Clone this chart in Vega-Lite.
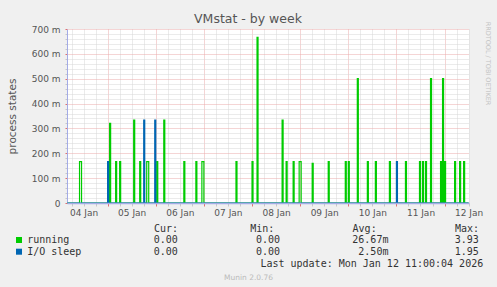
{
  "$schema": "https://vega.github.io/schema/vega-lite/v6.json",
  "width": 402,
  "height": 174,
  "autosize": {"type": "none"},
  "padding": {"left": 67, "top": 29, "right": 28, "bottom": 84},
  "background": "#f0f0f0",
  "config": {
    "view": {"fill": "#ffffff", "stroke": null},
    "axis": {"labelFont": "DejaVu Sans", "titleFont": "DejaVu Sans", "titleFontWeight": "normal"}
  },
  "title": {
    "text": "VMstat - by week",
    "font": "DejaVu Sans",
    "fontSize": 12.5,
    "fontWeight": "normal",
    "color": "#555555",
    "anchor": "middle",
    "frame": "group",
    "dx": -20,
    "offset": -4
  },
  "data": {
    "values": [
      {"state": "running", "time": "2026-01-04T04:00", "value": 0},
      {"state": "running", "time": "2026-01-04T10:00", "value": 0.1667},
      {"state": "running", "time": "2026-01-04T11:00", "value": 0},
      {"state": "running", "time": "2026-01-05T01:00", "value": 0.32},
      {"state": "running", "time": "2026-01-05T01:30", "value": 0},
      {"state": "running", "time": "2026-01-05T04:00", "value": 0.1667},
      {"state": "running", "time": "2026-01-05T04:30", "value": 0},
      {"state": "running", "time": "2026-01-05T06:00", "value": 0.1667},
      {"state": "running", "time": "2026-01-05T06:30", "value": 0},
      {"state": "running", "time": "2026-01-05T13:00", "value": 0.3333},
      {"state": "running", "time": "2026-01-05T13:30", "value": 0},
      {"state": "running", "time": "2026-01-05T16:00", "value": 0.1667},
      {"state": "running", "time": "2026-01-05T16:30", "value": 0},
      {"state": "running", "time": "2026-01-05T19:30", "value": 0.1667},
      {"state": "running", "time": "2026-01-05T20:30", "value": 0},
      {"state": "running", "time": "2026-01-06T00:30", "value": 0.1667},
      {"state": "running", "time": "2026-01-06T01:00", "value": 0},
      {"state": "running", "time": "2026-01-06T04:00", "value": 0.3333},
      {"state": "running", "time": "2026-01-06T04:30", "value": 0},
      {"state": "running", "time": "2026-01-06T14:00", "value": 0.1667},
      {"state": "running", "time": "2026-01-06T14:30", "value": 0},
      {"state": "running", "time": "2026-01-06T20:00", "value": 0.1667},
      {"state": "running", "time": "2026-01-06T20:30", "value": 0},
      {"state": "running", "time": "2026-01-06T23:00", "value": 0.1667},
      {"state": "running", "time": "2026-01-07T00:00", "value": 0},
      {"state": "running", "time": "2026-01-07T16:00", "value": 0.1667},
      {"state": "running", "time": "2026-01-07T16:30", "value": 0},
      {"state": "running", "time": "2026-01-08T00:00", "value": 0.1667},
      {"state": "running", "time": "2026-01-08T00:30", "value": 0},
      {"state": "running", "time": "2026-01-08T02:30", "value": 0.6667},
      {"state": "running", "time": "2026-01-08T03:00", "value": 0},
      {"state": "running", "time": "2026-01-08T15:00", "value": 0.3333},
      {"state": "running", "time": "2026-01-08T15:30", "value": 0},
      {"state": "running", "time": "2026-01-08T17:00", "value": 0.1667},
      {"state": "running", "time": "2026-01-08T17:30", "value": 0},
      {"state": "running", "time": "2026-01-08T20:30", "value": 0.1667},
      {"state": "running", "time": "2026-01-08T21:00", "value": 0},
      {"state": "running", "time": "2026-01-08T23:30", "value": 0.1667},
      {"state": "running", "time": "2026-01-09T00:30", "value": 0},
      {"state": "running", "time": "2026-01-09T06:00", "value": 0.16},
      {"state": "running", "time": "2026-01-09T06:30", "value": 0},
      {"state": "running", "time": "2026-01-09T14:00", "value": 0.1667},
      {"state": "running", "time": "2026-01-09T14:30", "value": 0},
      {"state": "running", "time": "2026-01-09T22:30", "value": 0.1667},
      {"state": "running", "time": "2026-01-09T23:00", "value": 0},
      {"state": "running", "time": "2026-01-10T00:00", "value": 0.1667},
      {"state": "running", "time": "2026-01-10T00:30", "value": 0},
      {"state": "running", "time": "2026-01-10T04:30", "value": 0.5},
      {"state": "running", "time": "2026-01-10T05:00", "value": 0},
      {"state": "running", "time": "2026-01-10T09:30", "value": 0.1667},
      {"state": "running", "time": "2026-01-10T10:00", "value": 0},
      {"state": "running", "time": "2026-01-10T13:30", "value": 0.1667},
      {"state": "running", "time": "2026-01-10T14:00", "value": 0},
      {"state": "running", "time": "2026-01-10T20:30", "value": 0.1667},
      {"state": "running", "time": "2026-01-10T21:00", "value": 0},
      {"state": "running", "time": "2026-01-11T04:30", "value": 0.1667},
      {"state": "running", "time": "2026-01-11T05:00", "value": 0},
      {"state": "running", "time": "2026-01-11T11:30", "value": 0.1667},
      {"state": "running", "time": "2026-01-11T12:00", "value": 0},
      {"state": "running", "time": "2026-01-11T13:00", "value": 0.1667},
      {"state": "running", "time": "2026-01-11T13:30", "value": 0},
      {"state": "running", "time": "2026-01-11T14:30", "value": 0.1667},
      {"state": "running", "time": "2026-01-11T15:00", "value": 0},
      {"state": "running", "time": "2026-01-11T17:00", "value": 0.5},
      {"state": "running", "time": "2026-01-11T17:30", "value": 0},
      {"state": "running", "time": "2026-01-11T22:00", "value": 0.1667},
      {"state": "running", "time": "2026-01-11T22:30", "value": 0},
      {"state": "running", "time": "2026-01-11T23:00", "value": 0.5},
      {"state": "running", "time": "2026-01-11T23:30", "value": 0},
      {"state": "running", "time": "2026-01-12T00:00", "value": 0.1667},
      {"state": "running", "time": "2026-01-12T00:30", "value": 0},
      {"state": "running", "time": "2026-01-12T05:00", "value": 0.1667},
      {"state": "running", "time": "2026-01-12T05:30", "value": 0},
      {"state": "running", "time": "2026-01-12T07:30", "value": 0.1667},
      {"state": "running", "time": "2026-01-12T08:00", "value": 0},
      {"state": "running", "time": "2026-01-12T09:30", "value": 0.1667},
      {"state": "running", "time": "2026-01-12T10:00", "value": 0},
      {"state": "running", "time": "2026-01-12T12:00", "value": 0},
      {"state": "I/O sleep", "time": "2026-01-04T04:00", "value": 0},
      {"state": "I/O sleep", "time": "2026-01-05T00:00", "value": 0.1667},
      {"state": "I/O sleep", "time": "2026-01-05T00:30", "value": 0},
      {"state": "I/O sleep", "time": "2026-01-05T18:00", "value": 0.3333},
      {"state": "I/O sleep", "time": "2026-01-05T18:30", "value": 0},
      {"state": "I/O sleep", "time": "2026-01-05T23:30", "value": 0.3333},
      {"state": "I/O sleep", "time": "2026-01-06T00:00", "value": 0},
      {"state": "I/O sleep", "time": "2026-01-11T00:00", "value": 0.1667},
      {"state": "I/O sleep", "time": "2026-01-11T00:30", "value": 0},
      {"state": "I/O sleep", "time": "2026-01-12T12:00", "value": 0}
    ]
  },
  "encoding": {
    "color": {
      "field": "state",
      "type": "nominal",
      "scale": {"domain": ["running", "I/O sleep"], "range": ["#00cc00", "#0066b3"]},
      "legend": {
        "orient": "none",
        "legendX": -53,
        "legendY": 194.5,
        "padding": 0,
        "direction": "vertical",
        "title": "Cur:\u00a0\u00a0\u00a0\u00a0\u00a0\u00a0\u00a0\u00a0\u00a0\u00a0\u00a0\u00a0Min:\u00a0\u00a0\u00a0\u00a0\u00a0\u00a0\u00a0\u00a0\u00a0\u00a0\u00a0\u00a0\u00a0Avg:\u00a0\u00a0\u00a0\u00a0\u00a0\u00a0\u00a0\u00a0\u00a0\u00a0\u00a0\u00a0\u00a0Max:",
        "titleFont": "DejaVu Sans Mono",
        "titleFontSize": 10,
        "titleFontWeight": "normal",
        "titleColor": "#333333",
        "titlePadding": 1.5,
        "titleAnchor": "end",
        "titleLimit": 600,
        "labelFont": "DejaVu Sans Mono",
        "labelFontSize": 10,
        "labelColor": "#333333",
        "labelLimit": 600,
        "labelOffset": 3.2,
        "rowPadding": 1.7,
        "symbolType": "square",
        "symbolSize": 36,
        "symbolStrokeWidth": 0,
        "symbolOpacity": 1,
        "labelExpr": "datum.label == 'running' ? 'running\u00a0\u00a0\u00a0\u00a0\u00a0\u00a0\u00a0\u00a0\u00a0\u00a0\u00a0\u00a0\u00a0\u00a00.00\u00a0\u00a0\u00a0\u00a0\u00a0\u00a0\u00a0\u00a0\u00a0\u00a0\u00a0\u00a0\u00a00.00\u00a0\u00a0\u00a0\u00a0\u00a0\u00a0\u00a0\u00a0\u00a0\u00a0\u00a0\u00a026.67m\u00a0\u00a0\u00a0\u00a0\u00a0\u00a0\u00a0\u00a0\u00a0\u00a0\u00a03.93' : 'I/O\u00a0sleep\u00a0\u00a0\u00a0\u00a0\u00a0\u00a0\u00a0\u00a0\u00a0\u00a0\u00a0\u00a00.00\u00a0\u00a0\u00a0\u00a0\u00a0\u00a0\u00a0\u00a0\u00a0\u00a0\u00a0\u00a0\u00a00.00\u00a0\u00a0\u00a0\u00a0\u00a0\u00a0\u00a0\u00a0\u00a0\u00a0\u00a0\u00a0\u00a02.50m\u00a0\u00a0\u00a0\u00a0\u00a0\u00a0\u00a0\u00a0\u00a0\u00a0\u00a01.95'",
        "encode": {
          "symbols": {"update": {"fill": {"scale": "color", "field": "value"}}}
        }
      }
    }
  },
  "layer": [
    {
      "transform": [{"filter": "datum.state == 'running'"}],
      "mark": {"type": "line", "interpolate": "step-after", "strokeWidth": 1.2},
      "encoding": {
        "x": {
          "field": "time",
          "type": "temporal",
          "scale": {
            "domain": [
              {"year": 2026, "month": 1, "date": 4, "hours": 3, "minutes": 45},
              {"year": 2026, "month": 1, "date": 12, "hours": 12, "minutes": 11}
            ]
          },
          "axis": {
            "orient": "bottom",
            "tickCount": 34,
            "grid": true,
            "gridDash": [1, 1],
            "gridColor": {"condition": {"test": "hours(datum.value) == 0", "value": "#eaaaaa"}, "value": "#d6d6d6"},
            "tickColor": {"condition": {"test": "hours(datum.value) == 0", "value": "#e07070"}, "value": "#c8c8c8"},
            "tickSize": 3,
            "labelExpr": "hours(datum.value) == 12 ? timeFormat(datum.value, '%d %b') : ''",
            "labelOverlap": false,
            "labelFlush": false,
            "labelBound": false,
            "labelFontSize": 9,
            "labelColor": "#555555",
            "labelPadding": 2,
            "domain": false,
            "title": "Last update: Mon Jan 12 11:00:04 2026",
            "titleFont": "DejaVu Sans Mono",
            "titleFontSize": 10,
            "titleColor": "#333333",
            "titleX": 415.7,
            "titleY": 60.5,
            "titleAlign": "right",
            "titleBaseline": "middle",
            "zindex": 0
          }
        },
        "y": {
          "field": "value",
          "type": "quantitative",
          "scale": {"domain": [0, 0.7], "nice": false, "zero": true},
          "axis": {
            "values": [0, 0.02, 0.04, 0.06, 0.08, 0.1, 0.12, 0.14, 0.16, 0.18, 0.2, 0.22, 0.24, 0.26, 0.28, 0.3, 0.32, 0.34, 0.36, 0.38, 0.4, 0.42, 0.44, 0.46, 0.48, 0.5, 0.52, 0.54, 0.56, 0.58, 0.6, 0.62, 0.64, 0.66, 0.68, 0.7],
            "grid": true,
            "gridDash": [1, 1],
            "gridColor": {"condition": {"test": "abs(datum.value * 10 - round(datum.value * 10)) < 0.001", "value": "#eaaaaa"}, "value": "#d6d6d6"},
            "tickColor": {"condition": {"test": "abs(datum.value * 10 - round(datum.value * 10)) < 0.001", "value": "#e07070"}, "value": "#c8c8c8"},
            "tickSize": 2,
            "labelExpr": "abs(datum.value * 10 - round(datum.value * 10)) < 0.001 ? (datum.value == 0 ? '0' : format(datum.value * 1000, '.0f') + ' m') : ''",
            "labelOverlap": false,
            "labelFlush": false,
            "labelBound": false,
            "labelFontSize": 9,
            "labelColor": "#555555",
            "labelPadding": 5,
            "domain": true,
            "domainColor": "#a3abe6",
            "title": "process states",
            "titleFontSize": 10.5,
            "titleColor": "#555555",
            "titleX": -55,
            "titleY": 87,
            "titleAlign": "center",
            "titleBaseline": "middle",
            "zindex": 0
          }
        }
      }
    },
    {
      "transform": [{"filter": "datum.state == 'I/O sleep'"}],
      "mark": {"type": "line", "interpolate": "step-after", "strokeWidth": 1.2},
      "encoding": {
        "x": {
          "field": "time",
          "type": "temporal",
          "axis": {
            "orient": "bottom",
            "grid": false,
            "ticks": false,
            "labels": false,
            "domain": true,
            "domainColor": "#a3abe6",
            "domainWidth": 1.5,
            "title": "Munin 2.0.76",
            "titleFont": "DejaVu Sans",
            "titleFontSize": 7.5,
            "titleColor": "#bbbbbb",
            "titleX": 181,
            "titleY": 74.5,
            "titleAlign": "center",
            "titleBaseline": "middle",
            "zindex": 1
          }
        },
        "y": {
          "field": "value",
          "type": "quantitative",
          "axis": {
            "orient": "right",
            "grid": false,
            "ticks": false,
            "labels": false,
            "domain": false,
            "title": "RRDTOOL / TOBI OETIKER",
            "titleFont": "DejaVu Sans",
            "titleFontSize": 6.5,
            "titleColor": "#c4c4c4",
            "titleAngle": 90,
            "titleX": 18,
            "titleY": 34,
            "titleAlign": "center",
            "titleBaseline": "middle"
          }
        }
      }
    }
  ],
  "resolve": {"axis": {"x": "independent", "y": "independent"}}
}
